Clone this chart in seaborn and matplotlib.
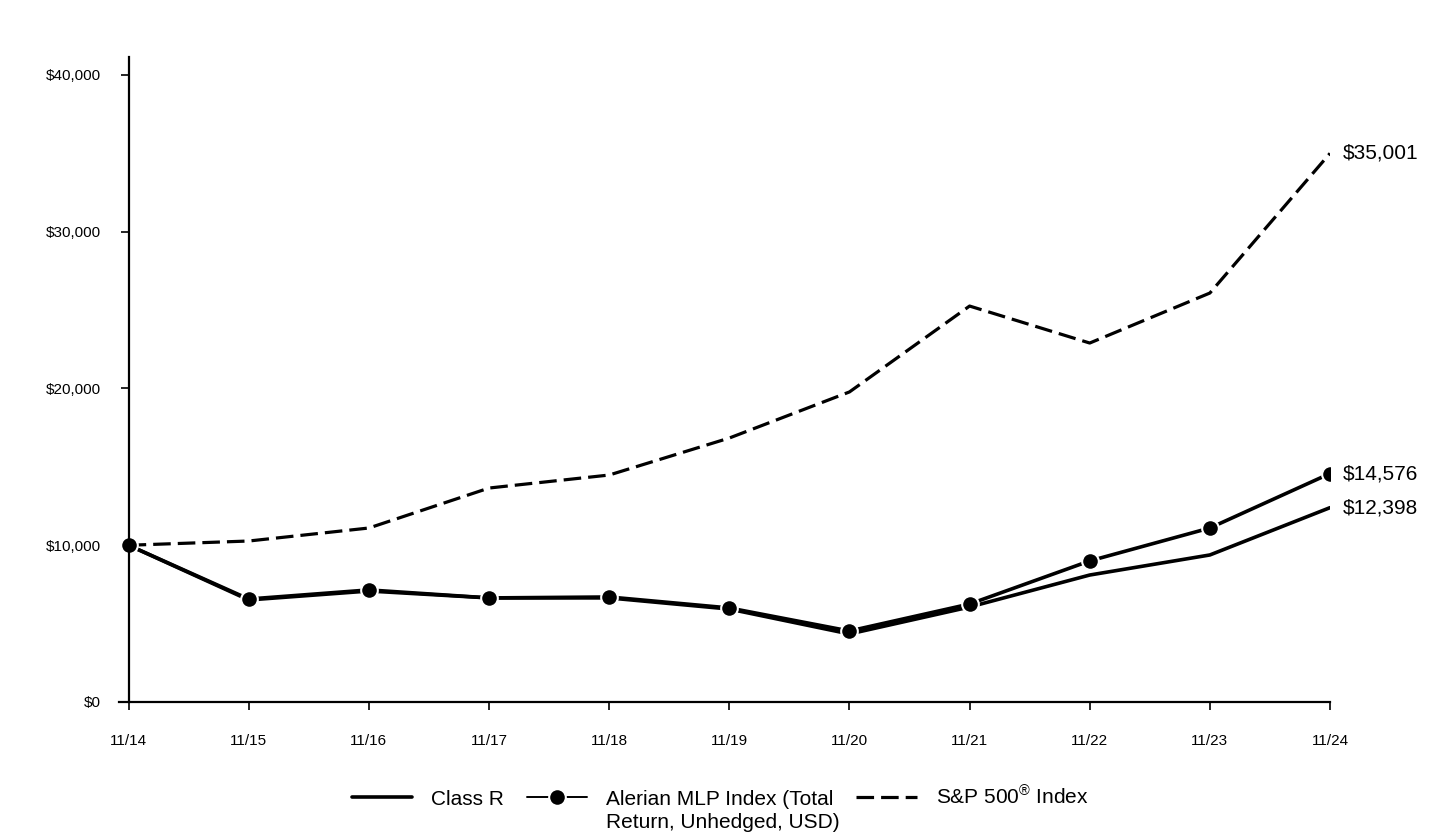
import matplotlib
matplotlib.use("Agg")
import matplotlib.pyplot as plt
import seaborn as sns

# growth of $10,000
periods = ["11/14", "11/15", "11/16", "11/17", "11/18", "11/19",
           "11/20", "11/21", "11/22", "11/23", "11/24"]
class_r = [10000, 6510, 7080, 6640, 6640, 5930, 4340, 6060, 8100, 9380, 12398]
alerian = [10000, 6570, 7150, 6640, 6700, 6000, 4530, 6250, 9000, 11100, 14576]
sp500 = [10000, 10270, 11100, 13650, 14480, 16840, 19780, 25260, 22900, 26090, 35001]
yticks = [0, 10000, 20000, 30000, 40000]

sns.set_style("white")
plt.rcParams['font.family'] = ['Liberation Sans', 'DejaVu Sans']
plt.rcParams['mathtext.fontset'] = 'custom'
plt.rcParams['mathtext.rm'] = 'Liberation Sans'
plt.rcParams['mathtext.it'] = 'Liberation Sans'
plt.rcParams['text.color'] = 'black'

fig = plt.figure(figsize=(14.4, 8.4), dpi=100)
ax = fig.add_axes([119 / 1440, 138 / 840, (1330 - 119) / 1440, (702 - 57) / 840])

x = list(range(len(periods)))
sns.lineplot(x=x, y=sp500, ax=ax, color='black', linewidth=2.3,
             linestyle=(0, (5.5, 2.2)), label='S&P 500$^{®}$ Index')
sns.lineplot(x=x, y=class_r, ax=ax, color='black', linewidth=2.6, label='Class R')
sns.lineplot(x=x, y=alerian, ax=ax, color='black', linewidth=2.6, marker='o',
             markersize=12, markeredgecolor='white', markeredgewidth=1.5,
             label='Alerian MLP Index (Total')

ax.set_xlim(-0.08, 10)
ax.set_ylim(0, 41148)
ax.set_xticks(x)
ax.set_xticklabels(periods)
ax.set_yticks(yticks)
ax.set_yticklabels(['${:,.0f}'.format(v) for v in yticks])
ax.tick_params(axis='both', direction='out', length=6, width=1.2, colors='black',
               labelcolor='black', labelsize=11, bottom=True, left=True)
ax.tick_params(axis='x', pad=17)
ax.tick_params(axis='y', pad=14)
for s in ['top', 'right']:
    ax.spines[s].set_visible(False)
ax.spines['left'].set_position(('data', 0))
for s in ['left', 'bottom']:
    ax.spines[s].set_linewidth(1.6)
    ax.spines[s].set_color('black')
ax.set_xlabel('')
ax.set_ylabel('')

for vals in [sp500, alerian, class_r]:
    ax.annotate('${:,.0f}'.format(vals[-1]), xy=(10, vals[-1]), xytext=(9, 0),
                textcoords='offset points', va='center', ha='left', fontsize=15,
                color='black')

ax.get_legend().remove()
handles, labels = ax.get_legend_handles_labels()
order = [labels.index('Class R'), labels.index('Alerian MLP Index (Total'),
         labels.index('S&P 500$^{®}$ Index')]
leg = fig.legend([handles[i] for i in order], [labels[i] for i in order],
                 loc='center', bbox_to_anchor=(0.5, 1 - 797 / 840), ncol=3,
                 frameon=False, fontsize=15, handlelength=2.9, handletextpad=0.9,
                 columnspacing=1.1, labelcolor='black')
leg.legend_handles[1].set_linewidth(1.4)

# second line of the wrapped Alerian label
fig.canvas.draw()
bb = leg.get_texts()[1].get_window_extent()
fig.text(bb.x0 / 1440, (bb.y0 - 4) / 840, 'Return, Unhedged, USD)',
         ha='left', va='top', fontsize=15, color='black')

fig.savefig('out.png', dpi=100)
